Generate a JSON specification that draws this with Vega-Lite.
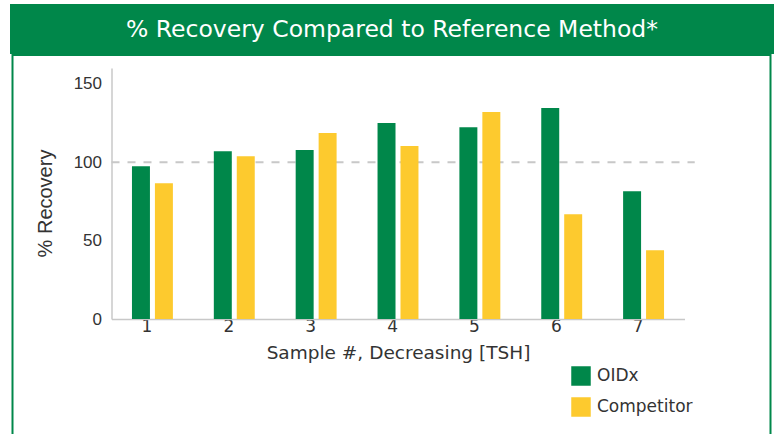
{
  "$schema": "https://vega.github.io/schema/vega-lite/v6.json",
  "padding": {"left": 10, "top": 4, "right": 0, "bottom": 0},
  "background": "white",
  "spacing": 0,
  "center": true,
  "config": {"view": {"stroke": null}},
  "datasets": {
    "bars": [
      {"sample": "1", "method": "OIDx", "recovery": 97.4},
      {"sample": "1", "method": "Competitor", "recovery": 86.6},
      {"sample": "2", "method": "OIDx", "recovery": 107},
      {"sample": "2", "method": "Competitor", "recovery": 103.8},
      {"sample": "3", "method": "OIDx", "recovery": 107.7},
      {"sample": "3", "method": "Competitor", "recovery": 118.5},
      {"sample": "4", "method": "OIDx", "recovery": 124.9},
      {"sample": "4", "method": "Competitor", "recovery": 110.2},
      {"sample": "5", "method": "OIDx", "recovery": 122.3},
      {"sample": "5", "method": "Competitor", "recovery": 131.9},
      {"sample": "6", "method": "OIDx", "recovery": 134.5},
      {"sample": "6", "method": "Competitor", "recovery": 66.8},
      {"sample": "7", "method": "OIDx", "recovery": 81.5},
      {"sample": "7", "method": "Competitor", "recovery": 43.8}
    ],
    "header": [{"title": "% Recovery Compared to Reference Method*"}],
    "ref": [{"level": 100}]
  },
  "vconcat": [
    {
      "width": 764,
      "height": 50,
      "view": {"fill": "#00874A", "stroke": null},
      "data": {"name": "header"},
      "mark": {"type": "text", "color": "white", "font": "DejaVu Sans", "fontSize": 23.5, "align": "center", "baseline": "middle", "dy": 1},
      "encoding": {"text": {"field": "title"}}
    },
    {
      "width": 758,
      "height": 381,
      "view": {"stroke": "#00874A", "strokeWidth": 2, "fill": null},
      "layer": [
        {
          "data": {"name": "ref"},
          "mark": {"type": "rule", "color": "#c8c8c8", "strokeWidth": 2, "strokeDash": [8, 8]},
          "encoding": {
            "x": {"datum": "1", "type": "nominal", "bandPosition": -0.5},
            "x2": {"datum": "7", "bandPosition": 1.75},
            "y": {"field": "level", "type": "quantitative"}
          }
        },
        {
          "data": {"name": "bars"},
          "mark": {"type": "bar"},
          "encoding": {
            "x": {
              "field": "sample",
              "type": "nominal",
              "sort": ["1", "2", "3", "4", "5", "6", "7"],
              "scale": {"range": [99, 672], "paddingInner": 0.5, "paddingOuter": 0.25},
              "axis": {
                "title": "Sample #, Decreasing [TSH]",
                "offset": -117,
                "labelAngle": 0,
                "domainColor": "#c8c8c8",
                "domainWidth": 1.5,
                "ticks": false,
                "labelPadding": 7,
                "labelFont": "DejaVu Sans",
                "labelFontSize": 17,
                "labelColor": "#333333",
                "titleFont": "DejaVu Sans",
                "titleFontSize": 18.5,
                "titleFontWeight": "normal",
                "titleColor": "#333333",
                "titlePadding": 9
              }
            },
            "xOffset": {
              "field": "method",
              "type": "nominal",
              "sort": ["OIDx", "Competitor"],
              "scale": {"paddingInner": 0.217, "paddingOuter": 0}
            },
            "y": {
              "field": "recovery",
              "type": "quantitative",
              "scale": {"domain": [0, 160], "range": [264, 13], "nice": false},
              "axis": {
                "title": "% Recovery",
                "offset": -99,
                "values": [0, 50, 100, 150],
                "grid": false,
                "ticks": false,
                "domainColor": "#c8c8c8",
                "domainWidth": 1.5,
                "labelPadding": 10,
                "labelFont": "Liberation Sans",
                "labelFontSize": 17,
                "labelColor": "#333333",
                "titleFont": "Liberation Sans",
                "titleFontSize": 20,
                "titleFontWeight": "normal",
                "titleColor": "#333333",
                "titlePadding": 18,
                "titleY": 148
              }
            },
            "color": {
              "field": "method",
              "type": "nominal",
              "scale": {"domain": ["OIDx", "Competitor"], "range": ["#00874A", "#FDCA2E"]},
              "legend": {
                "title": null,
                "orient": "none",
                "legendX": 561,
                "legendY": 362,
                "padding": 0,
                "symbolType": "square",
                "symbolSize": 380,
                "symbolStrokeWidth": 0,
                "symbolOpacity": 1,
                "rowPadding": 11,
                "labelOffset": 6,
                "labelFont": "DejaVu Sans",
                "labelFontSize": 17,
                "labelColor": "#333333"
              }
            }
          }
        }
      ]
    }
  ]
}
